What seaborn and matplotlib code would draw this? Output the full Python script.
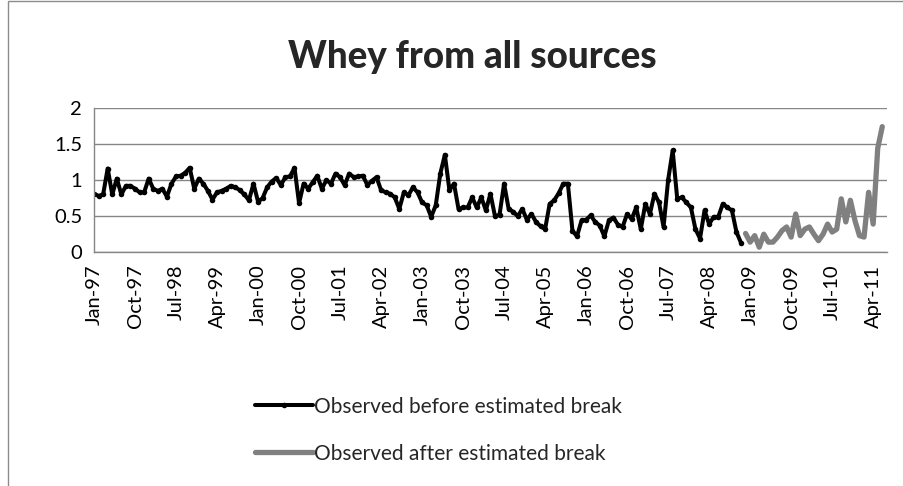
import numpy as np
import pandas as pd
import seaborn as sns
import matplotlib.pyplot as plt
from matplotlib.patches import Rectangle

sns.set_style("white")
plt.rcParams['font.family'] = ['Lato', 'DejaVu Sans']

# monthly values, Jan-97 .. Nov-08 (before break)
before = [0.81, 0.78, 0.80, 1.16, 0.80, 1.02, 0.80, 0.92, 0.92, 0.88,
          0.83, 0.83, 1.02, 0.88, 0.85, 0.88, 0.77, 0.95, 1.05, 1.06,
          1.10, 1.17, 0.88, 1.02, 0.95, 0.85, 0.73, 0.83, 0.85, 0.88,
          0.92, 0.90, 0.86, 0.80, 0.72, 0.95, 0.70, 0.75, 0.90, 0.98,
          1.03, 0.93, 1.04, 1.05, 1.17, 0.68, 0.95, 0.88, 0.97, 1.06,
          0.88, 1.00, 0.95, 1.09, 1.04, 0.93, 1.09, 1.04, 1.05, 1.06,
          0.93, 0.99, 1.04, 0.86, 0.83, 0.81, 0.76, 0.60, 0.83, 0.79,
          0.90, 0.83, 0.69, 0.65, 0.49, 0.65, 1.09, 1.35, 0.86, 0.95,
          0.60, 0.62, 0.62, 0.76, 0.62, 0.76, 0.58, 0.81, 0.50, 0.52,
          0.95, 0.60, 0.56, 0.50, 0.60, 0.45, 0.53, 0.42, 0.36, 0.32,
          0.67, 0.72, 0.82, 0.95, 0.95, 0.30, 0.22, 0.44, 0.45, 0.51,
          0.42, 0.37, 0.22, 0.44, 0.48, 0.38, 0.35, 0.53, 0.46, 0.62,
          0.32, 0.67, 0.53, 0.81, 0.69, 0.35, 1.00, 1.41, 0.74, 0.76,
          0.69, 0.62, 0.32, 0.19, 0.58, 0.39, 0.49, 0.49, 0.67, 0.62,
          0.58, 0.28, 0.13]
# Dec-08 .. Jun-11 (after break)
after = [0.26, 0.14, 0.23, 0.07, 0.25, 0.14, 0.14, 0.21, 0.30, 0.35,
         0.21, 0.53, 0.23, 0.32, 0.35, 0.25, 0.16, 0.25, 0.39, 0.28,
         0.32, 0.74, 0.42, 0.72, 0.44, 0.23, 0.21, 0.83, 0.39, 1.44,
         1.74]
tick_labels = ['Jan-97', 'Oct-97', 'Jul-98', 'Apr-99', 'Jan-00', 'Oct-00',
               'Jul-01', 'Apr-02', 'Jan-03', 'Oct-03', 'Jul-04', 'Apr-05',
               'Jan-06', 'Oct-06', 'Jul-07', 'Apr-08', 'Jan-09', 'Oct-09',
               'Jul-10', 'Apr-11']

df_before = pd.DataFrame({'month': np.arange(len(before)), 'value': before})
df_after = pd.DataFrame({'month': np.arange(len(before), len(before) + len(after)),
                         'value': after})

fig = plt.figure(figsize=(9.04, 4.86), dpi=100)
fig.patches.append(Rectangle((0.009, -0.01), 1.2, 1.008, transform=fig.transFigure,
                             fill=False, edgecolor='#8c8c8c', lw=1))
ax = fig.add_axes([0.104, 0.481, 0.877, 0.297])

sns.lineplot(data=df_before, x='month', y='value', ax=ax, color='black', lw=2.9,
             marker='o', markersize=4, markeredgewidth=0,
             label='Observed before estimated break')
sns.lineplot(data=df_after, x='month', y='value', ax=ax, color='#808080', lw=3.8,
             label='Observed after estimated break')

ax.set_xlim(0, 174)
ax.set_ylim(0, 2)
ax.set_yticks([0, 0.5, 1, 1.5, 2])
ax.set_yticklabels(['0', '0.5', '1', '1.5', '2'])
ax.set_xticks(np.arange(0, 174, 9))
ax.set_xticklabels(tick_labels, rotation=90)
ax.yaxis.grid(True, color='#868686', lw=1)
ax.set_axisbelow(True)
ax.set_xlabel('')
ax.set_ylabel('')
for s in ['top', 'right']:
    ax.spines[s].set_visible(False)
for s in ['left', 'bottom']:
    ax.spines[s].set_color('#868686')
    ax.spines[s].set_linewidth(1)
ax.tick_params(axis='both', labelsize=14.5, colors='black', length=5,
               color='#868686', direction='out')
ax.tick_params(axis='x', pad=4)

fig.text(0.522, 0.882, 'Whey from all sources', ha='center', va='center',
         fontsize=26.5, fontweight='black')

h, l = ax.get_legend_handles_labels()
ax.get_legend().remove()
fig.legend(h, l, loc='center', bbox_to_anchor=(0.485, 0.115), frameon=False,
           fontsize=15, handlelength=2.8, handletextpad=0.05, labelspacing=1.3)

plt.savefig('out.png', dpi=100)
